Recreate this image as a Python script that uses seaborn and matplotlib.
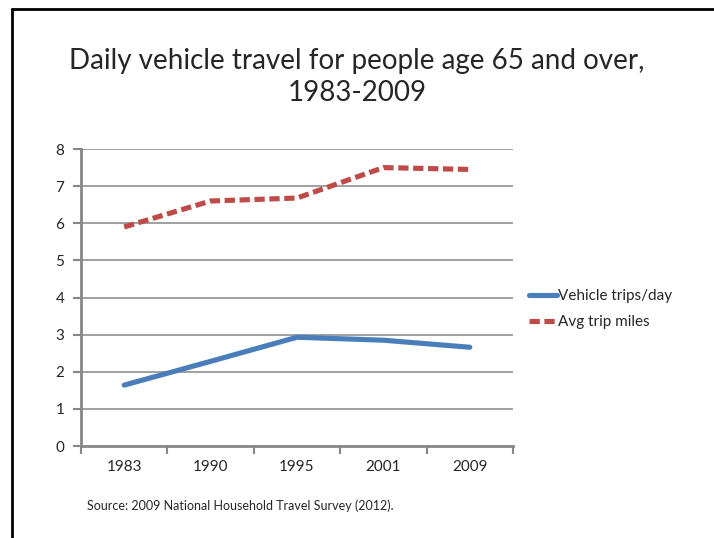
import matplotlib
matplotlib.use("Agg")
import matplotlib.pyplot as plt
import seaborn as sns
import pandas as pd
from matplotlib.lines import Line2D

years = ["1983", "1990", "1995", "2001", "2009"]
vehicle_trips = [1.64, 2.28, 2.93, 2.85, 2.66]
avg_trip_miles = [5.9, 6.6, 6.68, 7.5, 7.45]
series_names = ["Vehicle trips/day", "Avg trip miles"]
y_ticks = [0, 1, 2, 3, 4, 5, 6, 7, 8]

sns.set_style("white")
plt.rcParams['font.family'] = ['Lato', 'DejaVu Sans']

df = pd.DataFrame({
    "x": list(range(len(years))) * 2,
    "value": vehicle_trips + avg_trip_miles,
    "series": [series_names[0]] * len(years) + [series_names[1]] * len(years),
})

fig = plt.figure(figsize=(7.14, 5.38), dpi=100)
ax = fig.add_axes([0.1134, 0.171, 0.6051, 0.552])

grid_color = "#868686"
for t in y_ticks[1:]:
    ax.axhline(t, color=grid_color, lw=1.1, zorder=0)

palette = {series_names[0]: "#4a7ebb", series_names[1]: "#be4b48"}
sns.lineplot(data=df, x="x", y="value", hue="series", palette=palette,
             ax=ax, legend=False, estimator=None, sort=False)
lines = ax.get_lines()[-2:]
lines[0].set_linewidth(3.7)
lines[0].set_solid_capstyle("round")
lines[1].set_linewidth(3.7)
lines[1].set_dashes([2.0, 0.9])

ax.set_xlim(-0.5, len(years) - 0.5)
ax.set_ylim(0, 8)
ax.set_yticks(y_ticks)
ax.set_yticklabels([str(t) for t in y_ticks], fontsize=11)
ax.set_xticks(range(len(years)))
ax.set_xticklabels(years, fontsize=11)
ax.tick_params(axis="x", length=0, pad=10)
ax.tick_params(axis="y", length=6, color=grid_color, width=1.5, pad=6, left=True)
ax.set_xticks([i - 0.5 for i in range(len(years) + 1)], minor=True)
ax.tick_params(axis="x", which="minor", length=6, color=grid_color, width=1.5, bottom=True)

for s in ["top", "right"]:
    ax.spines[s].set_visible(False)
for s in ["left", "bottom"]:
    ax.spines[s].set_color(grid_color)
    ax.spines[s].set_linewidth(2)
ax.set_xlabel("")
ax.set_ylabel("")

handles = [
    Line2D([0], [0], color=palette[series_names[0]], lw=3.7),
    Line2D([0], [0], color=palette[series_names[1]], lw=3.7, dashes=[2.0, 0.9]),
]
fig.legend(handles, series_names, loc="upper left", bbox_to_anchor=(0.721, 0.488),
           frameon=False, fontsize=11, handlelength=1.85, handletextpad=0.05,
           labelspacing=0.8)

fig.text(0.5, 0.857, "Daily vehicle travel for people age 65 and over,\n1983-2009",
         ha="center", va="center", fontsize=20, linespacing=1.3)
fig.text(0.122, 0.0595, "Source: 2009 National Household Travel Survey (2012).",
         ha="left", va="center", fontsize=9)

fig.add_artist(Line2D([0.017, 0.017], [0, 0.983], transform=fig.transFigure, color="black", lw=2))
fig.add_artist(Line2D([0.017, 1.0], [0.983, 0.983], transform=fig.transFigure, color="black", lw=2))

fig.savefig("out.png", dpi=100)
